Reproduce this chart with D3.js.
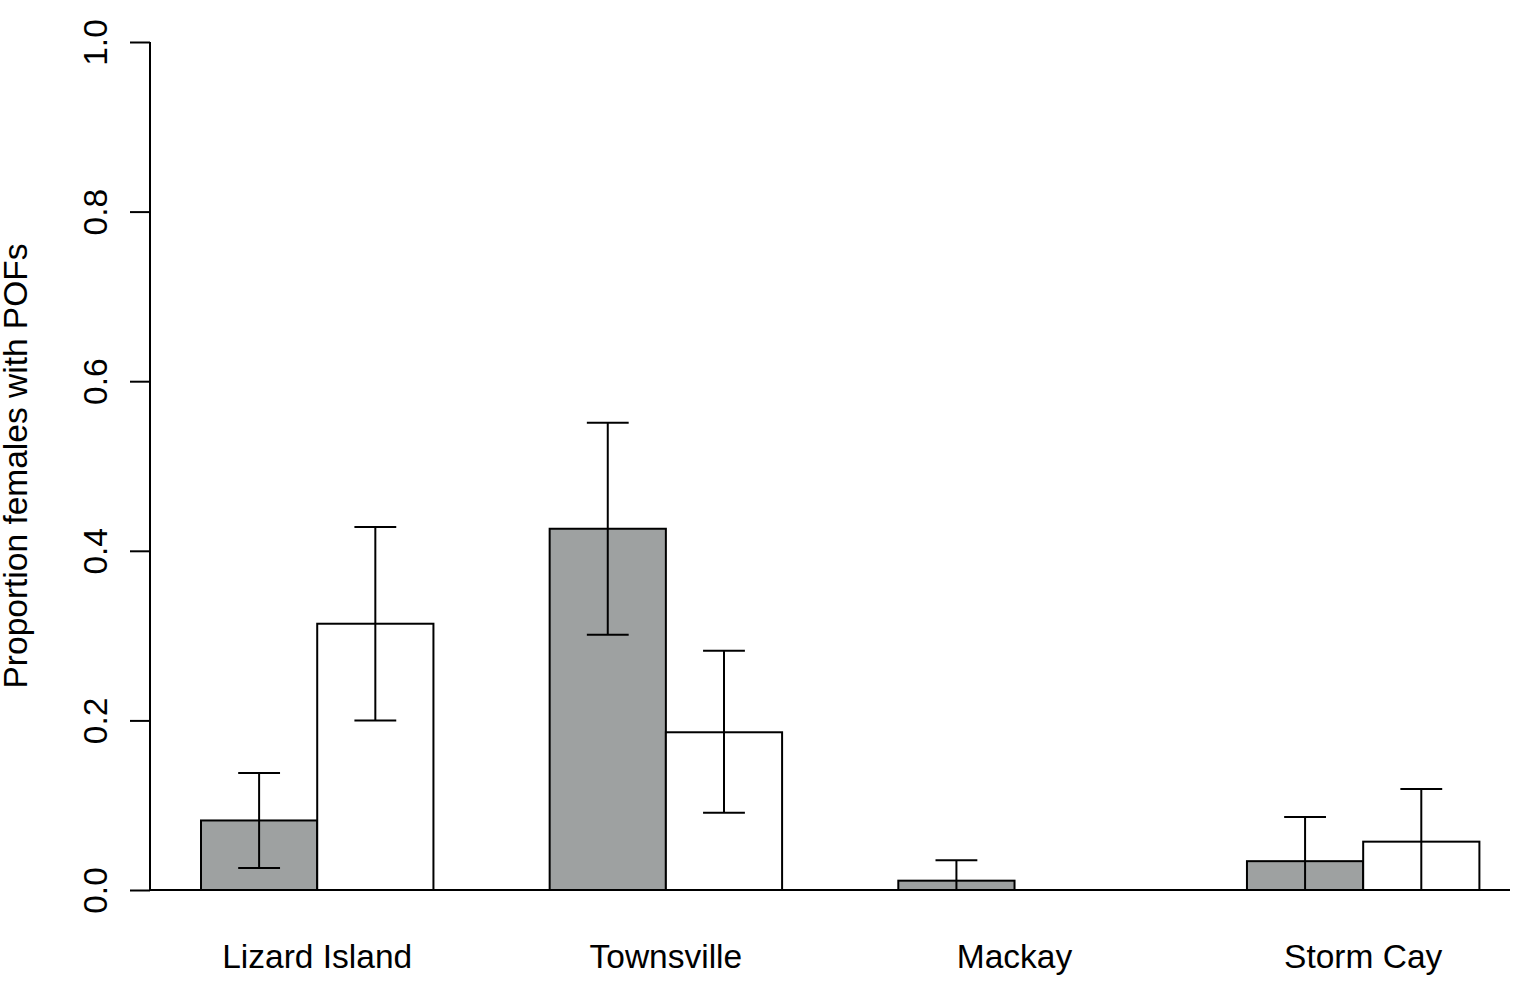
<!DOCTYPE html>
<html>
<head>
<meta charset="utf-8">
<script src="https://cdn.jsdelivr.net/npm/d3@7"></script>
<style>
  html, body { margin: 0; padding: 0; background: #ffffff; }
  svg { display: block; font-family: "Liberation Sans", Arial, sans-serif; }
</style>
</head>
<body>
<svg id="chart" width="1518" height="994"></svg>
<script>
// Sites and the two groups of females compared at each site
const sites = ["Lizard Island", "Townsville", "Mackay", "Storm Cay"];
const groups = ["grey", "white"];

// Proportion of females with POFs
const greyValues  = [0.082, 0.426, 0.011, 0.034];
const whiteValues = [0.314, 0.186, 0.000, 0.057];

// Error bar limits
const greyUpper  = [0.138, 0.551, 0.035, 0.086];
const greyLower  = [0.026, 0.301, 0.000, 0.000];
const whiteUpper = [0.428, 0.282, null,  0.119];
const whiteLower = [0.200, 0.091, null,  0.000];

const yTicks = [0.0, 0.2, 0.4, 0.6, 0.8, 1.0];
const yTitle = "Proportion females with POFs";

const svg = d3.select("#chart");
const fontSize = 33.5;

const x = d3.scaleBand()
  .domain(sites)
  .range([201, 1479.4])
  .paddingInner(1 / 3)
  .paddingOuter(0);

const xInner = d3.scaleBand()
  .domain(groups)
  .range([0, x.bandwidth()])
  .padding(0);

const y = d3.scaleLinear().domain([0, 1]).range([890, 42]);

const fills = { grey: "#9ea1a1", white: "#ffffff" };

const rows = [];
sites.forEach((s, i) => {
  rows.push({ site: s, group: "grey",  value: greyValues[i],  hi: greyUpper[i],  lo: greyLower[i] });
  rows.push({ site: s, group: "white", value: whiteValues[i], hi: whiteUpper[i], lo: whiteLower[i] });
});

// Bars (zero-height bars are not drawn)
svg.append("g")
  .selectAll("rect")
  .data(rows.filter(d => d.value > 0))
  .join("rect")
  .attr("x", d => x(d.site) + xInner(d.group))
  .attr("y", d => y(d.value))
  .attr("width", xInner.bandwidth())
  .attr("height", d => y(0) - y(d.value))
  .attr("fill", d => fills[d.group])
  .attr("stroke", "#000")
  .attr("stroke-width", 2);

// Baseline
svg.append("line")
  .attr("x1", 150).attr("x2", 1510)
  .attr("y1", y(0)).attr("y2", y(0))
  .attr("stroke", "#000").attr("stroke-width", 2);

// Error bars
const capHalf = xInner.bandwidth() * 0.18;
const eb = svg.append("g").attr("stroke", "#000").attr("stroke-width", 2);
rows.filter(d => d.hi !== null).forEach(d => {
  const cx = x(d.site) + xInner(d.group) + xInner.bandwidth() / 2;
  eb.append("line").attr("x1", cx).attr("x2", cx).attr("y1", y(d.hi)).attr("y2", y(d.lo));
  eb.append("line").attr("x1", cx - capHalf).attr("x2", cx + capHalf).attr("y1", y(d.hi)).attr("y2", y(d.hi));
  eb.append("line").attr("x1", cx - capHalf).attr("x2", cx + capHalf).attr("y1", y(d.lo)).attr("y2", y(d.lo));
});

// Y axis
const yAxis = d3.axisLeft(y)
  .tickValues(yTicks)
  .tickFormat(d3.format(".1f"))
  .tickSize(20)
  .tickPadding(0);

const gy = svg.append("g").attr("transform", "translate(150,0)").call(yAxis);
gy.select(".domain").attr("d", `M0,${y(0)}V${y(1)}`).attr("stroke", "#000").attr("stroke-width", 2);
gy.selectAll(".tick line").attr("stroke", "#000").attr("stroke-width", 2);
gy.selectAll(".tick text")
  .attr("x", null).attr("dy", null)
  .attr("transform", "translate(-43,0) rotate(-90)")
  .attr("text-anchor", "middle")
  .attr("fill", "#000")
  .style("font-family", "'Liberation Sans', Arial, sans-serif")
  .style("font-size", fontSize + "px");

// Site labels
svg.append("g")
  .selectAll("text")
  .data(sites)
  .join("text")
  .attr("x", d => x(d) + x.bandwidth() / 2)
  .attr("y", 968)
  .attr("text-anchor", "middle")
  .style("font-size", fontSize + "px")
  .attr("fill", "#000")
  .text(d => d);

// Y axis title
svg.append("text")
  .attr("transform", `translate(27,${(y(0) + y(1)) / 2}) rotate(-90)`)
  .attr("text-anchor", "middle")
  .style("font-size", fontSize + "px")
  .attr("fill", "#000")
  .text(yTitle);
</script>
</body>
</html>
